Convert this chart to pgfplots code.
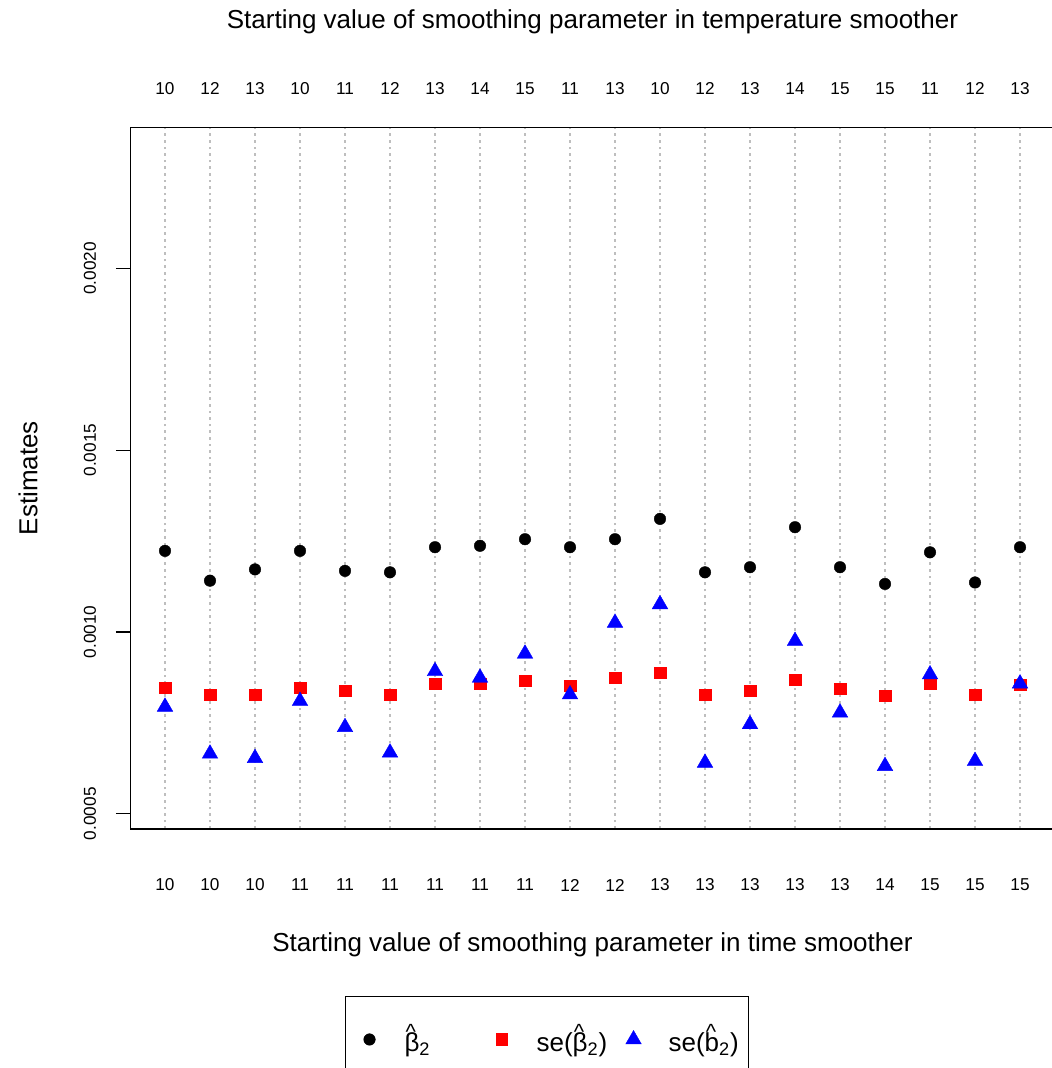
\documentclass[border=0pt]{standalone}
\usepackage{pgfplots}
\usepackage{pgfplotstable}
\pgfplotsset{compat=1.18}
\usepackage{amsmath}
\usepackage{fontspec}
\setmainfont{Liberation Sans}
\setsansfont{Liberation Sans}
\definecolor{rgray}{HTML}{BEBEBE}
\pgfplotstableread{
i b se sb
1 0.001223 0.000847 0.000794
2 0.001141 0.000827 0.000665
3 0.001172 0.000827 0.000653
4 0.001223 0.000847 0.000810
5 0.001168 0.000838 0.000738
6 0.001164 0.000827 0.000668
7 0.001233 0.000858 0.000892
8 0.001237 0.000858 0.000874
9 0.001255 0.000866 0.000940
10 0.001233 0.000852 0.000828
11 0.001255 0.000874 0.001025
12 0.001311 0.000888 0.001076
13 0.001164 0.000827 0.000640
14 0.001178 0.000838 0.000746
15 0.001288 0.000869 0.000975
16 0.001178 0.000844 0.000778
17 0.001132 0.000825 0.000631
18 0.001219 0.000858 0.000883
19 0.001136 0.000827 0.000645
20 0.001233 0.000855 0.000858
}\datatab
\newcommand\tickfont{\fontsize{8.6}{10}\selectfont}
\newcommand\labfont{\fontsize{13}{15}\selectfont}
\newcommand\rhat[1]{\leavevmode\rlap{\hspace{0.6pt}\raisebox{5.8pt}{\fontsize{11}{11}\selectfont\^{}}}#1}
\pgfplotsset{myleg/.style={legend image code/.code={%
  \path[draw=none,fill=none] (0pt,-4pt) rectangle (17pt,4pt);
  \draw[##1] plot coordinates {(8.5pt,0pt)};}}}
\begin{document}
\begin{tikzpicture}
\begin{axis}[
  scale only axis,
  width=461.7pt, height=350.85pt,
  xmin=0.24, xmax=20.76,
  ymin=0.000458, ymax=0.002388,
  axis line style={line width=0.6pt},
  xtick={1,...,20},
  xticklabels={10,10,10,11,11,11,11,11,11,12,12,13,13,13,13,13,14,15,15,15},
  xtick pos=lower,
  xtick align=inside,
  major x tick style={draw=none},
  xticklabel style={font=\tickfont, anchor=center, yshift=-28pt},
  ytick={0.0005,0.001,0.0015,0.002},
  yticklabels={0.0005,0.0010,0.0015,0.0020},
  scaled y ticks=false,
  ytick pos=left,
  ytick align=outside,
  major tick length=7.5pt,
  major y tick style={line width=0.6pt, black},
  yticklabel style={font=\tickfont, anchor=center, xshift=-12.9pt, rotate=90},
  xmajorgrids,
  grid style={rgray, line width=0.6pt, dash pattern=on 1.3pt off 2pt},
  xlabel={Starting value of smoothing parameter in time smoother},
  ylabel={Estimates},
  every axis x label/.style={at={(axis description cs:0.5,0)}, anchor=center, yshift=-58pt, font=\labfont},
  every axis y label/.style={at={(axis description cs:0,0.5)}, xshift=-51.4pt, rotate=90, anchor=center, font=\labfont},
  legend columns=3,
  legend style={at={(0.2319,-0.238)}, anchor=north west, draw=black, line width=0.6pt,
    inner xsep=3.5pt, inner ysep=14pt, font=\labfont,
    cells={anchor=west}, nodes={inner sep=0pt},
    /tikz/every odd column/.append style={column sep=9pt},
    /tikz/every even column/.append style={column sep=3.5pt}},
]
\addplot[only marks, black, mark=*, mark size=2.9pt, mark options={fill=black, line width=0.2pt}, myleg] table[x=i, y=b] {\datatab};
\addlegendentry{\makebox[36.5pt][l]{\rhat{β}$_{\text{2}}$}}
\addplot[only marks, red, mark=square*, mark size=2.9pt, mark options={fill=red, line width=0.2pt}, myleg] table[x=i, y=se] {\datatab};
\addlegendentry{\makebox[36.5pt][l]{se(\rhat{β}$_{\text{2}}$)}}
\addplot[only marks, blue, mark=triangle*, mark size=4.5pt, mark options={fill=blue, line width=0.2pt}, myleg] table[x=i, y=sb] {\datatab};
\addlegendentry{\makebox[36.5pt][l]{se(\rhat{b}$_{\text{2}}$)}}
\end{axis}
\begin{axis}[
  scale only axis,
  width=461.7pt, height=350.85pt,
  xmin=0.24, xmax=20.76, ymin=0, ymax=1,
  axis x line*=top, axis y line=none,
  axis line style={line width=0.6pt},
  xtick={1,...,20},
  xticklabels={10,12,13,10,11,12,13,14,15,11,13,10,12,13,14,15,15,11,12,13},
  xtick align=inside,
  major x tick style={draw=none},
  xticklabel style={font=\tickfont, anchor=center, yshift=19.2pt},
  title={Starting value of smoothing parameter in temperature smoother},
  every axis title/.style={at={(0.5,1)}, anchor=center, yshift=52.7pt, font=\labfont},
]
\end{axis}
\pgfresetboundingbox
\path[use as bounding box] (-65.4pt,-119.5pt) rectangle (460.1pt,414.5pt);
\end{tikzpicture}
\end{document}
